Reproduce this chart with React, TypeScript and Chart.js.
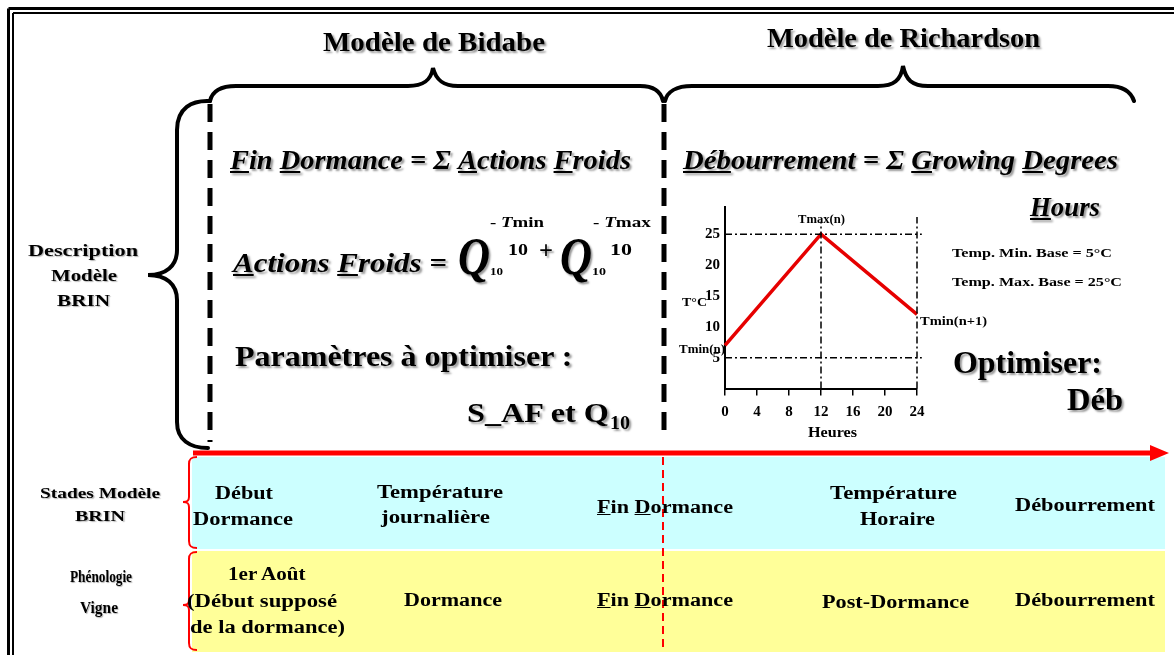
import React, { useEffect, useRef } from "react";
import { Chart, registerables } from "chart.js";

Chart.register(...registerables);

const SERIF = '"Liberation Serif", "Times New Roman", serif';

// ---- chart data ----
const hours = [0, 12, 24];
const tempC = [7, 25, 12];
const xTickValues = [0, 4, 8, 12, 16, 20, 24];
const yTickValues = [5, 10, 15, 20, 25];
const baseTemps = [5, 25]; // Temp. Min. Base, Temp. Max. Base
const baseLineHours = [0, 24.6];
const markerHours = [12, 24];
const markerTops = [27, 27.8];
const yRange = [0, 29.4];
const xRange = [0, 24];

// ---- text measuring ----
let mctx: CanvasRenderingContext2D | null = null;
function measure(s: string, size: number, italic: boolean): number {
  if (!mctx) mctx = document.createElement("canvas").getContext("2d");
  if (!mctx) return s.length * size * 0.5;
  mctx.font = `${italic ? "italic " : ""}bold ${size}px ${SERIF}`;
  return mctx.measureText(s).width;
}

type TProps = {
  x1: number;
  x2: number;
  cy: number;
  size: number;
  text: string;
  italic?: boolean;
  shadow?: boolean;
  soft?: boolean;
  children?: React.ReactNode;
};

function T({ x1, x2, cy, size, text, italic = false, shadow = false, soft = false, children }: TProps) {
  const w = measure(text, size, italic);
  const sx = (x2 - x1) / w;
  return (
    <div
      style={{
        position: "absolute",
        left: x1,
        top: cy - size / 2,
        height: size,
        lineHeight: `${size}px`,
        fontFamily: SERIF,
        fontWeight: "bold",
        fontStyle: italic ? "italic" : "normal",
        fontSize: size,
        whiteSpace: "nowrap",
        color: "#000",
        transform: `scaleX(${sx})`,
        transformOrigin: "0 50%",
        textDecorationThickness: "2px",
        textShadow: shadow
          ? "2px 2px 2px rgba(0,0,0,0.4)"
          : soft
          ? "1px 1px 1px rgba(0,0,0,0.3)"
          : "none",
      }}
    >
      {children ?? text}
    </div>
  );
}

function TempChart() {
  const ref = useRef<HTMLCanvasElement>(null);
  useEffect(() => {
    if (!ref.current) return;
    const dashDot = [7, 3, 2, 3];
    const datasets: any[] = [];
    baseTemps.forEach((t) =>
      datasets.push({
        data: baseLineHours.map((h) => ({ x: h, y: t })),
        showLine: true,
        borderColor: "#000",
        borderWidth: 1.5,
        borderDash: dashDot,
        pointRadius: 0,
        clip: false,
      })
    );
    markerHours.forEach((h, i) =>
      datasets.push({
        data: [
          { x: h, y: yRange[0] },
          { x: h, y: markerTops[i] },
        ],
        showLine: true,
        borderColor: "#000",
        borderWidth: 1.5,
        borderDash: dashDot,
        pointRadius: 0,
        clip: false,
      })
    );
    datasets.push({
      data: hours.map((h, i) => ({ x: h, y: tempC[i] })),
      showLine: true,
      borderColor: "#e60000",
      borderWidth: 3.5,
      pointRadius: 0,
      clip: false,
    });
    const tickFont = { family: SERIF, weight: "bold" as const, size: 15 };
    const chart = new Chart(ref.current, {
      type: "scatter",
      data: { datasets },
      options: {
        animation: false,
        responsive: false,
        layout: { padding: { left: 25, top: 17, right: 23, bottom: 31.5 } },
        plugins: { legend: { display: false }, tooltip: { enabled: false } },
        scales: {
          x: {
            type: "linear",
            min: xRange[0],
            max: xRange[1],
            afterBuildTicks: (s: any) => {
              s.ticks = xTickValues.map((v) => ({ value: v }));
            },
            afterFit: (s: any) => {
              s.height = 30;
            },
            grid: {
              drawOnChartArea: false,
              drawTicks: true,
              tickLength: 7,
              color: "#000",
              lineWidth: 1.5,
            },
            border: { display: true, color: "#000", width: 2 },
            ticks: { color: "#000", font: tickFont, padding: 8, maxRotation: 0, autoSkip: false },
          },
          y: {
            type: "linear",
            min: yRange[0],
            max: yRange[1],
            afterBuildTicks: (s: any) => {
              s.ticks = yTickValues.map((v) => ({ value: v }));
            },
            afterFit: (s: any) => {
              s.width = 40;
            },
            grid: { display: false },
            border: { display: true, color: "#000", width: 2 },
            ticks: { color: "#000", font: tickFont, padding: -3, autoSkip: false },
          },
        },
      } as any,
    });
    return () => chart.destroy();
  }, []);
  return (
    <canvas
      ref={ref}
      width={280}
      height={260}
      style={{ position: "absolute", left: 660, top: 190, width: 280, height: 260 }}
    />
  );
}

function Shapes() {
  return (
    <svg width={1174} height={655} style={{ position: "absolute", left: 0, top: 0 }}>
      {/* bands */}
      <rect x={192} y={457} width={973} height={92} fill="#ccffff" />
      <rect x={192} y={551} width={973} height={101} fill="#ffff99" />
      {/* frame */}
      <line x1={8.5} y1={8.5} x2={1180} y2={8.5} stroke="#000" strokeWidth={3} />
      <line x1={8.5} y1={8.5} x2={8.5} y2={660} stroke="#000" strokeWidth={3} />
      <line x1={13} y1={13} x2={1180} y2={13} stroke="#000" strokeWidth={2} />
      <line x1={13} y1={13} x2={13} y2={660} stroke="#000" strokeWidth={2} />
      {/* braces */}
      <g fill="none" stroke="#000" strokeWidth={4} strokeLinecap="round">
        <path d="M 210 101 C 192 100 177 108 177 130 L 177 250 C 177 266 166 275 148 275 C 166 275 177 284 177 300 L 177 422 C 177 440 190 448 208 448" />
        <path d="M 210 101 C 212 92 220 86 236 86 L 408 86 C 424 86 431 80 433 68 C 436 80 443 86 458 86 L 640 86 C 655 86 661 92 663 101" />
        <path d="M 665 101 C 667 92 676 86 692 86 L 878 86 C 894 86 901 80 903 66 C 906 80 912 86 928 86 L 1108 86 C 1124 86 1131 92 1134 101" />
      </g>
      {/* dashed separators */}
      <line x1={210} y1={104} x2={210} y2={442} stroke="#000" strokeWidth={5} strokeDasharray="18 10" />
      <line x1={664} y1={104} x2={664} y2={440} stroke="#000" strokeWidth={5} strokeDasharray="18 10" />
      {/* red arrow */}
      <line x1={193} y1={453} x2={1156} y2={453} stroke="#ff0000" strokeWidth={5} />
      <polygon points="1150,445 1169,453 1150,461" fill="#ff0000" />
      {/* red braces */}
      <g fill="none" stroke="#ff0000" strokeWidth={2}>
        <path d="M 197 457 C 191 457 189 459 189 464 L 189 497 C 189 501 187 502 183 502 C 187 502 189 503 189 507 L 189 541 C 189 546 191 548 197 548" />
        <path d="M 197 552 C 191 552 189 554 189 559 L 189 600 C 189 604 187 605 183 605 C 187 605 189 606 189 610 L 189 643 C 189 648 191 650 197 650" />
      </g>
      <line x1={663} y1={457} x2={663} y2={652} stroke="#ff0000" strokeWidth={2} strokeDasharray="8 5" />
    </svg>
  );
}

export default function App() {
  return (
    <div
      style={{
        position: "absolute",
        left: 0,
        top: 0,
        width: 1174,
        height: 655,
        overflow: "hidden",
        background: "#fff",
      }}
    >
      <Shapes />
      <TempChart />

      {/* titles */}
      <T x1={323} x2={545} cy={42} size={27} shadow text="Modèle de Bidabe" />
      <T x1={767} x2={1040} cy={38} size={27} shadow text="Modèle de Richardson" />

      {/* left label */}
      <T x1={28} x2={138} cy={250} size={17} soft text="Description" />
      <T x1={51} x2={117} cy={275} size={17} soft text="Modèle" />
      <T x1={57} x2={110} cy={300} size={17} soft text="BRIN" />

      {/* formulas */}
      <T x1={230} x2={638} cy={160} size={27} italic shadow text="Fin Dormance = Σ Actions  Froids">
        <u>F</u>in <u>D</u>ormance = Σ <u>A</u>ctions  <u>F</u>roids
      </T>
      <T x1={683} x2={1118} cy={160} size={27} italic shadow text="Débourrement = Σ Growing Degrees">
        <u>Déb</u>ourrement = Σ <u>G</u>rowing <u>D</u>egrees
      </T>
      <T x1={1030} x2={1100} cy={207} size={27} italic shadow text="Hours">
        <u>H</u>ours
      </T>

      <T x1={233} x2={447} cy={263} size={27} italic shadow text="Actions Froids =">
        <u>A</u>ctions <u>F</u>roids =
      </T>
      <T x1={458} x2={490} cy={257} size={52} italic shadow text="Q" />
      <T x1={490} x2={503} cy={272} size={10} text="10" />
      <T x1={508} x2={528} cy={250} size={16} text="10" />
      <T x1={490} x2={545} cy={222} size={15} text="- Tmin">
        - <i>T</i>min
      </T>
      <T x1={539} x2={553} cy={251} size={26} shadow text="+" />
      <T x1={560} x2={592} cy={257} size={52} italic shadow text="Q" />
      <T x1={592} x2={606} cy={272} size={10} text="10" />
      <T x1={610} x2={632} cy={250} size={16} text="10" />
      <T x1={593} x2={652} cy={222} size={15} text="- Tmax">
        - <i>T</i>max
      </T>

      <T x1={235} x2={573} cy={356} size={29} shadow text="Paramètres à optimiser :" />
      <T x1={467} x2={610} cy={413} size={28} shadow text="S_AF et Q" />
      <T x1={610} x2={630} cy={422} size={19} shadow text="10" />

      {/* chart annotations */}
      <T x1={682} x2={707} cy={301} size={13} text="T°C" />
      <T x1={798} x2={845} cy={218} size={13} text="Tmax(n)" />
      <T x1={679} x2={725} cy={348} size={13} text="Tmin(n)" />
      <T x1={920} x2={987} cy={320} size={13} text="Tmin(n+1)" />
      <T x1={808} x2={857} cy={432} size={15} text="Heures" />

      {/* right side */}
      <T x1={952} x2={1112} cy={252} size={13} text="Temp. Min. Base = 5°C" />
      <T x1={952} x2={1122} cy={281} size={13} text="Temp. Max. Base = 25°C" />
      <T x1={953} x2={1102} cy={362} size={32} shadow text="Optimiser:" />
      <T x1={1067} x2={1123} cy={399} size={32} shadow text="Déb" />

      {/* row labels */}
      <T x1={40} x2={160} cy={493} size={15} soft text="Stades Modèle" />
      <T x1={75} x2={125} cy={516} size={15} soft text="BRIN" />
      <T x1={70} x2={132} cy={577} size={16} soft text="Phénologie" />
      <T x1={80} x2={118} cy={608} size={16} soft text="Vigne" />

      {/* cyan band */}
      <T x1={215} x2={273} cy={493} size={18} text="Début" />
      <T x1={193} x2={293} cy={519} size={18} text="Dormance" />
      <T x1={377} x2={503} cy={492} size={18} text="Température" />
      <T x1={381} x2={490} cy={517} size={18} text="journalière" />
      <T x1={597} x2={733} cy={507} size={18} text="Fin Dormance">
        <u>F</u>in <u>D</u>ormance
      </T>
      <T x1={830} x2={957} cy={493} size={18} text="Température" />
      <T x1={860} x2={935} cy={519} size={18} text="Horaire" />
      <T x1={1015} x2={1155} cy={505} size={18} text="Débourrement" />

      {/* yellow band */}
      <T x1={228} x2={307} cy={574} size={18} text="1er Août" />
      <T x1={187} x2={337} cy={601} size={18} text="(Début supposé" />
      <T x1={190} x2={345} cy={627} size={18} text="de la dormance)" />
      <T x1={404} x2={502} cy={600} size={18} text="Dormance" />
      <T x1={597} x2={733} cy={600} size={18} text="Fin Dormance">
        <u>F</u>in <u>D</u>ormance
      </T>
      <T x1={822} x2={969} cy={602} size={18} text="Post-Dormance" />
      <T x1={1015} x2={1155} cy={600} size={18} text="Débourrement" />
    </div>
  );
}
